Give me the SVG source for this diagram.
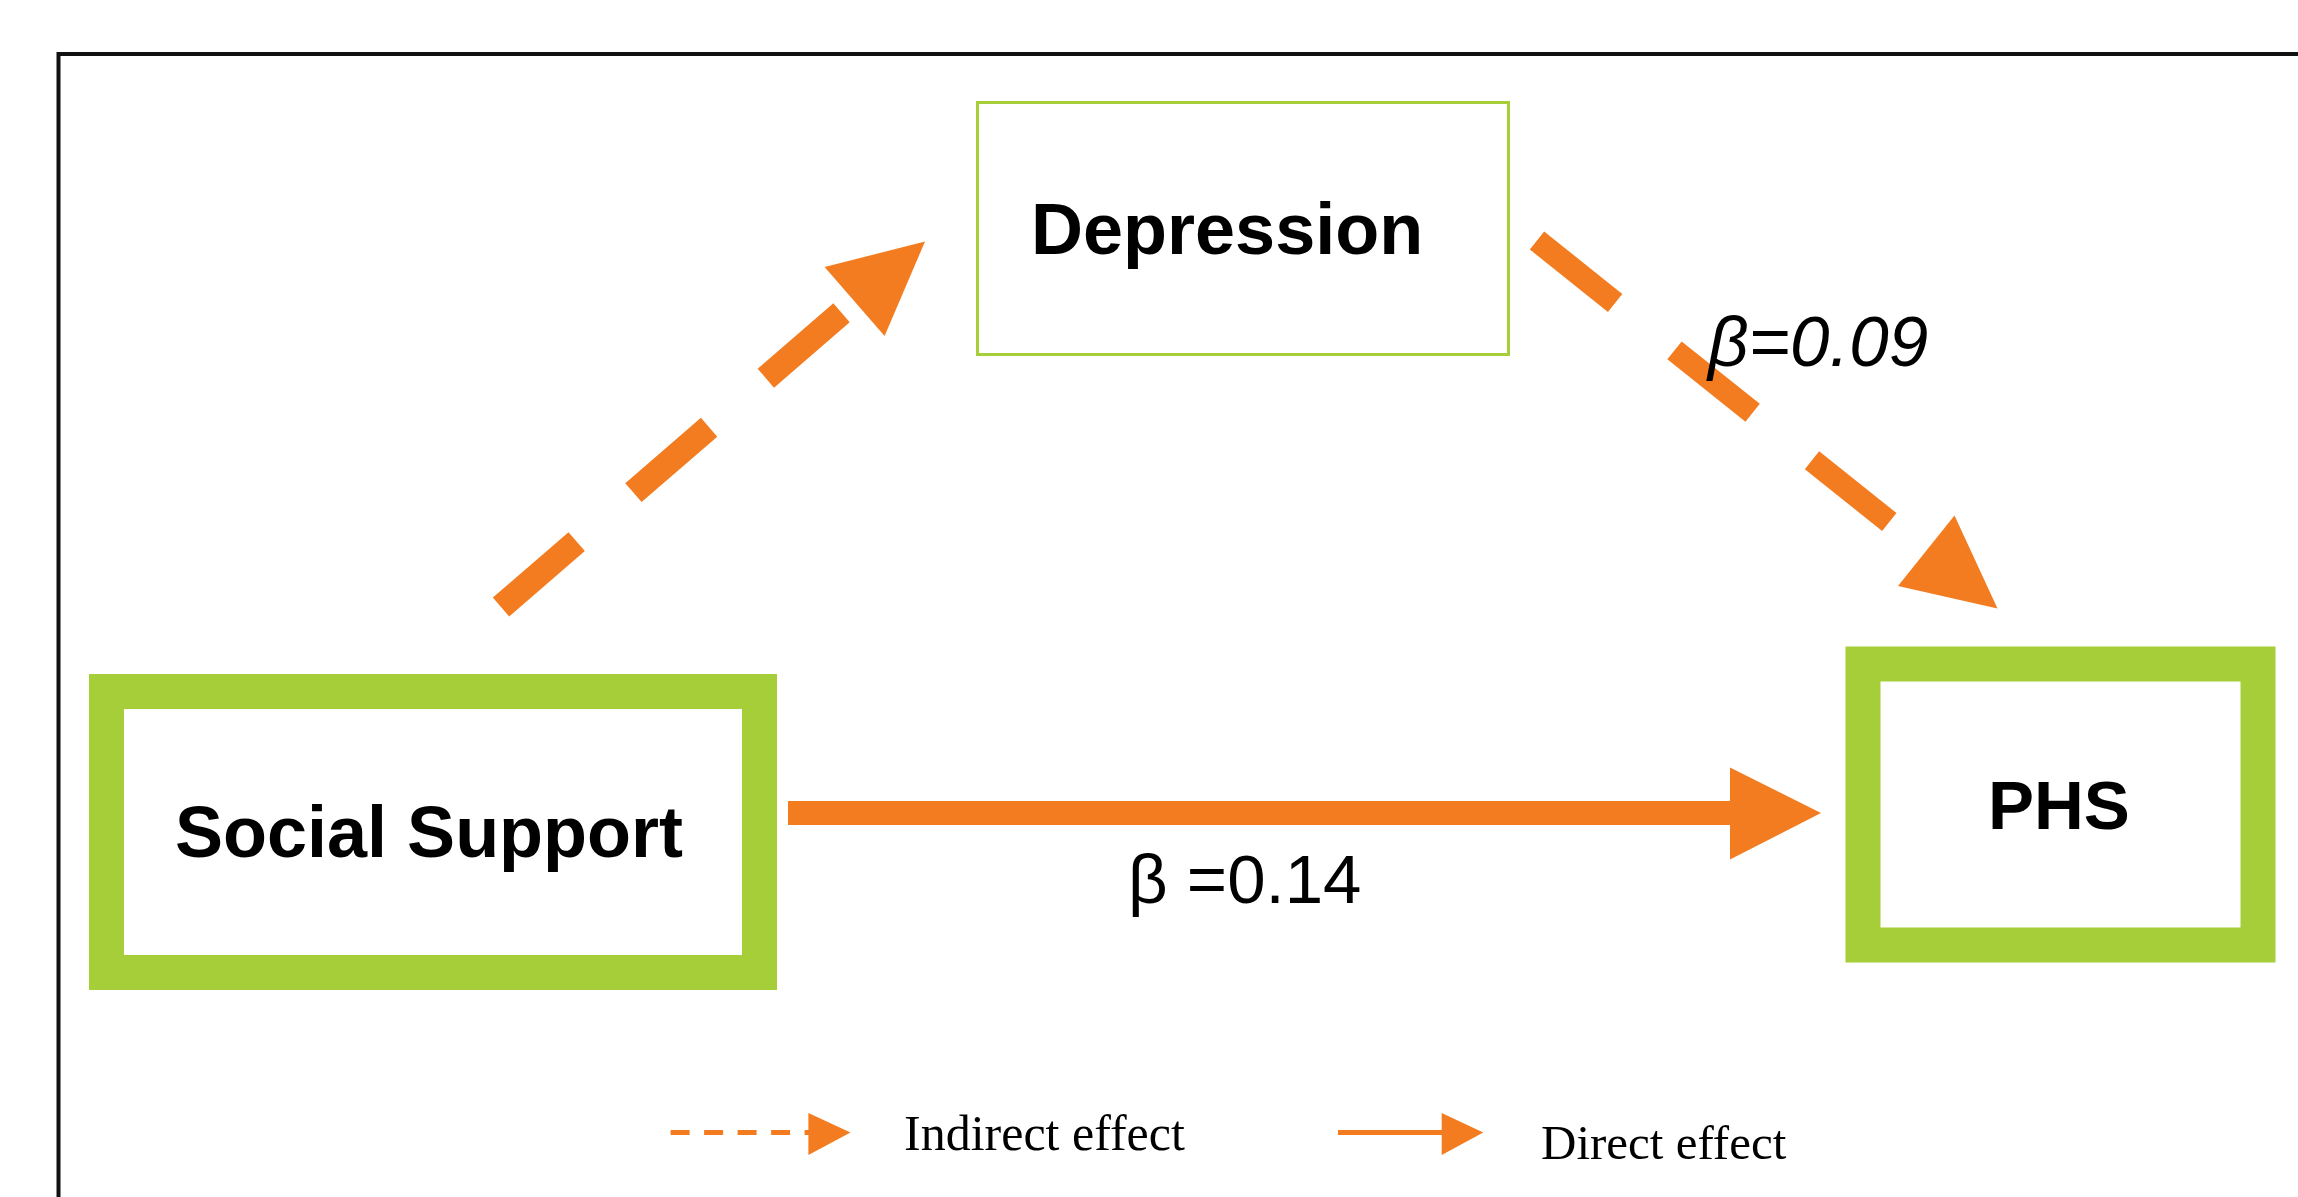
<svg xmlns="http://www.w3.org/2000/svg" width="2298" height="1197" viewBox="0 0 2298 1197">
<style>
.frame{fill:none;stroke:#111;stroke-width:4}
.thick{fill:#fff;stroke:#a6ce39;stroke-width:35}
.thin{fill:#fff;stroke:#a6ce39;stroke-width:3}
.lbl{font-family:"Liberation Sans",Arial,sans-serif;font-weight:bold;fill:#000}
.coef{font-family:"Liberation Sans",Arial,sans-serif;fill:#000}
.leg{font-family:"Liberation Serif","Times New Roman",serif;fill:#000}
.or{fill:#f47c20}
.dash{fill:none;stroke:#f47c20;stroke-linecap:butt}
</style>
<rect width="2298" height="1197" fill="#fff"/>
<path class="frame" d="M58.5 1200 V54 H2300"/>
<g id="depression">
<rect class="thin" x="977.5" y="102.5" width="531" height="252"/>
<text class="lbl" x="1031" y="253.5" font-size="72">Depression</text>
</g>
<g id="social-support">
<rect class="thick" x="106.5" y="691.5" width="653" height="281"/>
<text class="lbl" x="175" y="857" font-size="72">Social Support</text>
</g>
<g id="phs">
<rect class="thick" x="1863" y="664" width="395" height="281"/>
<text class="lbl" x="1988" y="828.5" font-size="69">PHS</text>
</g>
<g id="connectors">
<line class="dash" x1="501" y1="607" x2="854.6" y2="301.5" stroke-width="25" stroke-dasharray="100 75"/>
<polygon class="or" points="824.6,267 925,241.5 884.6,336"/>
<line class="dash" x1="1537" y1="240.5" x2="1889.3" y2="522" stroke-width="23" stroke-dasharray="100 76"/>
<polygon class="or" points="1898,586 1954.5,515.6 1997.5,608.5"/>
<rect class="or" x="788" y="801" width="943" height="24"/>
<polygon class="or" points="1730,767.5 1821,813 1730,859.5"/>
</g>
<g id="labels">
<text class="coef" x="1708" y="366" font-size="71" font-style="italic">β=0.09</text>
<text class="coef" x="1128" y="903" font-size="69">β =0.14</text>
</g>
<g id="legend">
<line class="dash" x1="670.6" y1="1132.5" x2="810" y2="1132.5" stroke-width="5" stroke-dasharray="19 14.5"/>
<polygon class="or" points="808.4,1113 850.5,1132.5 808.4,1155"/>
<text class="leg" x="904" y="1150" font-size="50">Indirect effect</text>
<line x1="1338" y1="1132.5" x2="1443" y2="1132.5" stroke="#f47c20" stroke-width="5"/>
<polygon class="or" points="1441.7,1113 1483.3,1132.5 1441.7,1155"/>
<text class="leg" x="1541" y="1159" font-size="49">Direct effect</text>
</g>
</svg>
